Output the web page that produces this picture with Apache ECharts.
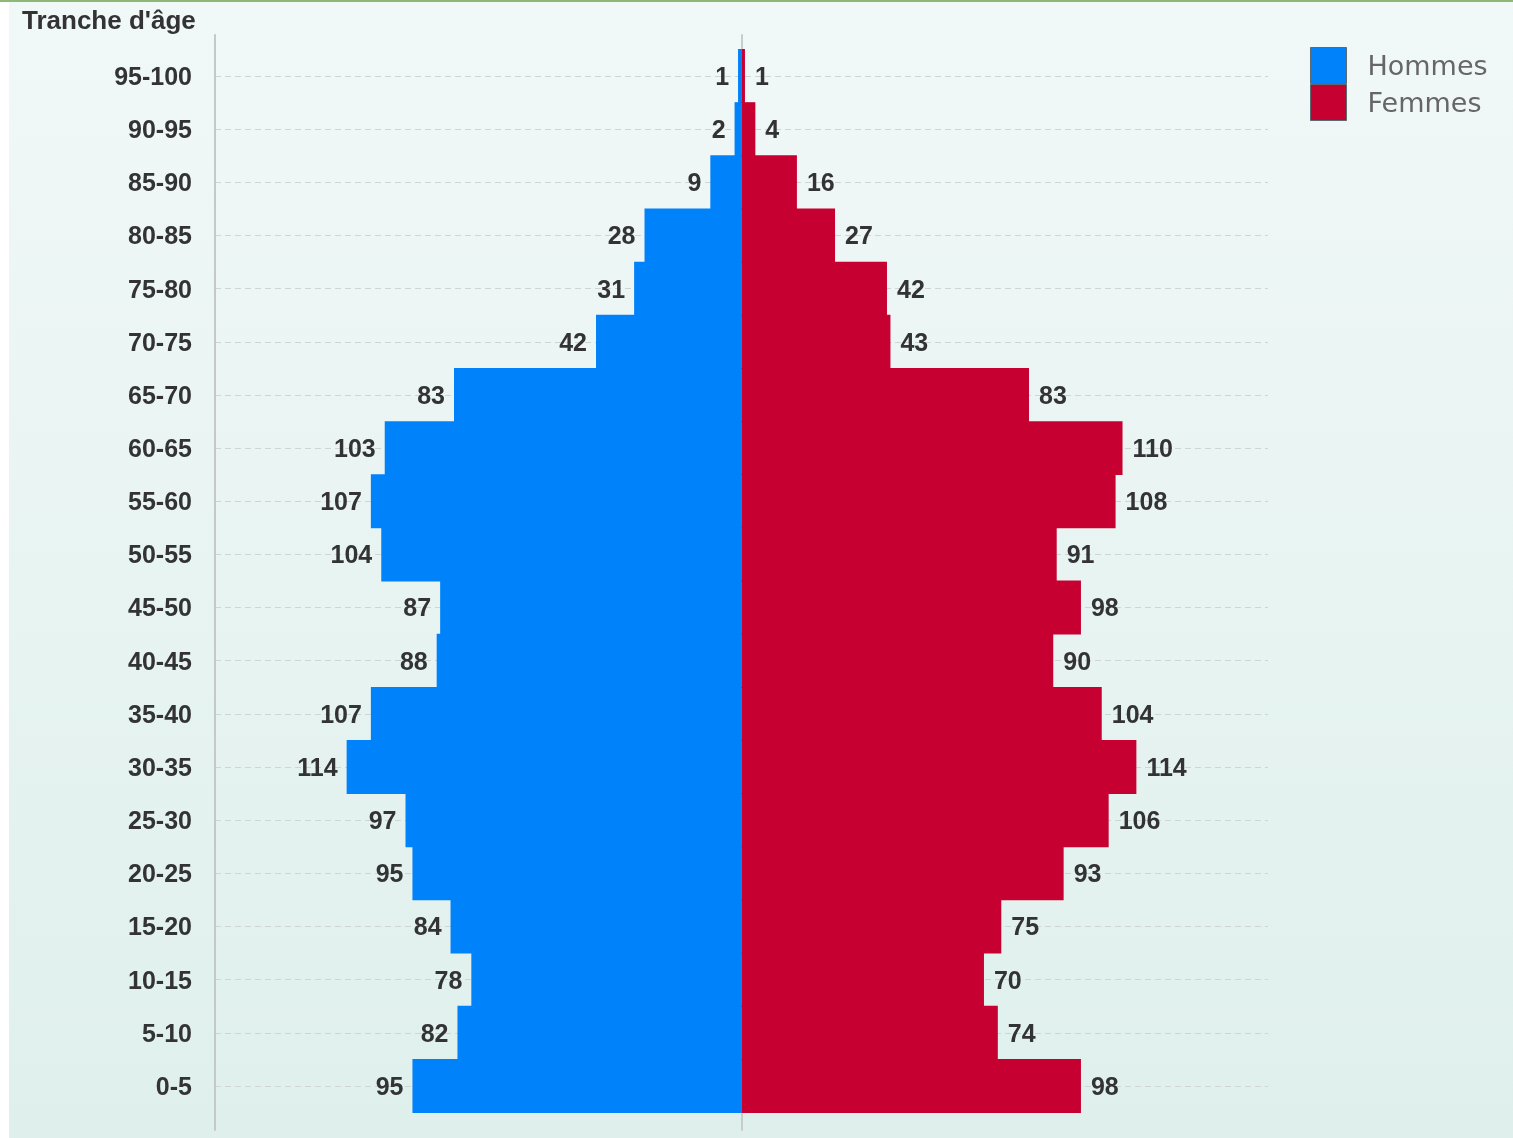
<!DOCTYPE html>
<html>
<head>
<meta charset="utf-8">
<script src="https://cdn.jsdelivr.net/npm/echarts@6/dist/echarts.min.js"></script>
<style>
  html, body { margin: 0; padding: 0; background: #fff; }
  #pyramide { width: 1513px; height: 1138px; }
</style>
</head>
<body>
<div id="pyramide"></div>
<script>
// tranches d'âge, du bas vers le haut
var tranches = ['0-5', '5-10', '10-15', '15-20', '20-25', '25-30', '30-35', '35-40', '40-45', '45-50',
  '50-55', '55-60', '60-65', '65-70', '70-75', '75-80', '80-85', '85-90', '90-95', '95-100'];
var hommes = [95, 82, 78, 84, 95, 97, 114, 107, 88, 87, 104, 107, 103, 83, 42, 31, 28, 9, 2, 1];
var femmes = [98, 74, 70, 75, 93, 106, 114, 104, 90, 98, 91, 108, 110, 83, 43, 42, 27, 16, 4, 1];
var xMax = 152;

var chart = echarts.init(document.getElementById('pyramide'));

var boldTxt = {
  color: '#333',
  fontSize: 25,
  fontWeight: 'bold',
  fontFamily: 'Liberation Sans, Arial, sans-serif'
};

var legendTxt = {
  color: '#666',
  fontSize: 27,
  fontFamily: 'DejaVu Sans, sans-serif',
  padding: [4, 0, 0, 16]
};

var options = {
  backgroundColor: '#fff',
  animation: false,
  title: {
    text: "Tranche d'âge",
    left: 22,
    top: 9,
    padding: 0,
    textStyle: Object.assign({}, boldTxt, { fontSize: 26 })
  },
  legend: {
    orient: 'vertical',
    left: 1310,
    top: 47,
    padding: 0,
    itemWidth: 36,
    itemHeight: 36,
    itemGap: 0,
    icon: 'rect',
    itemStyle: { borderColor: '#5a6a70', borderWidth: 1 },
    formatter: function (name) { return '{t|' + name + '}'; },
    textStyle: { rich: { t: legendTxt } },
    data: ['Hommes', 'Femmes']
  },
  graphic: [
    {
      type: 'rect', z: -10, silent: true,
      shape: { x: 9, y: 0, width: 1504, height: 1138 },
      style: {
        fill: new echarts.graphic.LinearGradient(0, 0, 0, 1, [
          { offset: 0, color: '#f1f8f8' },
          { offset: 1, color: '#dff0ec' }
        ])
      }
    },
    {
      type: 'rect', z: -9, silent: true,
      shape: { x: 0, y: 0, width: 1513, height: 2 },
      style: { fill: '#8fb877' }
    }
  ],
  grid: [
    // barres : de centre de tranche à centre de tranche
    { left: 215, right: 245, top: 76, bottom: 52 },
    // axe gauche prolongé
    { left: 215, right: 245, top: 35, bottom: 8 },
    // ligne centrale prolongée
    { left: 215, right: 245, top: 35, bottom: 8 }
  ],
  xAxis: [
    { gridIndex: 0, type: 'value', min: -xMax, max: xMax, show: false },
    { gridIndex: 1, type: 'value', min: -xMax, max: xMax, show: false },
    { gridIndex: 2, type: 'value', min: -xMax, max: xMax, show: false }
  ],
  yAxis: [
    {
      gridIndex: 0,
      type: 'category',
      data: tranches,
      boundaryGap: false,
      axisLine: { show: false },
      axisTick: { show: false },
      axisLabel: {
        margin: 23,
        formatter: '{a|{value}}',
        rich: { a: Object.assign({ padding: [4, 0, 0, 0] }, boldTxt) }
      },
      splitLine: {
        show: true,
        lineStyle: { color: '#cfd4d4', type: [6, 4], width: 1 }
      }
    },
    {
      gridIndex: 1,
      type: 'value', min: 0, max: 1,
      axisLine: { show: true, onZero: false, lineStyle: { color: '#c4c8c8', width: 2 } },
      axisTick: { show: false },
      axisLabel: { show: false },
      splitLine: { show: false }
    },
    {
      gridIndex: 2,
      type: 'value', min: 0, max: 1,
      z: -1,
      axisLine: { show: true, onZero: true, lineStyle: { color: '#c8cccc', width: 2 } },
      axisTick: { show: false },
      axisLabel: { show: false },
      splitLine: { show: false }
    }
  ],
  series: [
    {
      name: 'Hommes',
      type: 'bar',
      stack: 'pyramide',
      xAxisIndex: 0,
      yAxisIndex: 0,
      barWidth: '101.5%',
      clip: false,
      itemStyle: { color: '#0082fa' },
      label: Object.assign({
        show: true,
        position: 'left',
        distance: 9,
        offset: [0, 2],
        formatter: function (p) { return Math.abs(p.value); }
      }, boldTxt),
      data: hommes.map(function (v) { return -v; })
    },
    {
      name: 'Femmes',
      type: 'bar',
      stack: 'pyramide',
      xAxisIndex: 0,
      yAxisIndex: 0,
      barWidth: '101.5%',
      clip: false,
      itemStyle: { color: '#c70032' },
      label: Object.assign({
        show: true,
        position: 'right',
        distance: 10,
        offset: [0, 2]
      }, boldTxt),
      data: femmes
    }
  ]
};

chart.setOption(options);
</script>
</body>
</html>
